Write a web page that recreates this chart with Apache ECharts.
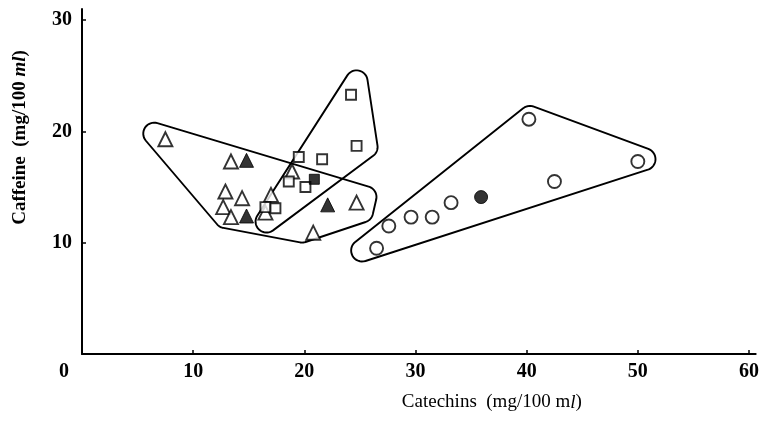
<!DOCTYPE html>
<html>
<head>
<meta charset="utf-8">
<script src="https://cdn.jsdelivr.net/npm/echarts@6/dist/echarts.min.js"></script>
<style>
  html, body { margin: 0; padding: 0; background: #fff; }
  #chart { width: 762px; height: 422px; }
</style>
</head>
<body>
<div id="chart"></div>
<script>
// axis ticks
const xTicks = [0, 10, 20, 30, 40, 50, 60]
const yTicks = [0, 10, 20, 30]

// [catechins, caffeine] in mg/100ml
const openTriangles = [
  [7.5, 19.3], [13.4, 17.3], [12.9, 14.6], [12.7, 13.2], [14.4, 14.0], [13.4, 12.3],
  [17.0, 14.3], [18.9, 16.4], [16.5, 12.7], [20.8, 10.9], [24.7, 13.6],
]
const filledTriangles = [[14.8, 17.4], [14.8, 12.4], [22.1, 13.4]]
const openSquares = [
  [24.2, 23.3], [24.7, 18.7], [19.5, 17.7], [21.6, 17.5],
  [18.6, 15.5], [20.1, 15.0], [16.5, 13.2], [17.4, 13.1],
]
const filledSquares = [[20.9, 15.7]]
const openCircles = [
  [40.2, 21.1], [50.0, 17.3], [42.5, 15.5], [33.2, 13.6],
  [31.5, 12.3], [29.6, 12.3], [27.6, 11.5], [26.5, 9.5],
]
const filledCircles = [[35.9, 14.1]]

// group outlines: centres of the rounded corners (data units)
const triangleGroup = [[6.5, 19.8], [12.9, 12.3], [19.8, 11.0], [25.2, 12.8], [25.5, 14.1]]
const squareGroup = [[24.7, 24.5], [25.6, 18.6], [16.6, 11.9]]
const circleGroup = [[40.3, 21.3], [50.6, 17.5], [25.2, 9.3]]
const groupOutlines = [triangleGroup, squareGroup, circleGroup]

const serif = "'Liberation Serif', 'DejaVu Serif', serif"

// rounded hull round convex corner points (pixels), corner radius r
function roundedHull(pts, r) {
  const n = pts.length
  const cx = pts.reduce((s, p) => s + p[0], 0) / n
  const cy = pts.reduce((s, p) => s + p[1], 0) / n
  const normals = []
  for (let i = 0; i < n; i++) {
    const p = pts[i]
    const q = pts[(i + 1) % n]
    const dx = q[0] - p[0]
    const dy = q[1] - p[1]
    const len = Math.hypot(dx, dy)
    let nx = dy / len
    let ny = -dx / len
    if (nx * ((p[0] + q[0]) / 2 - cx) + ny * ((p[1] + q[1]) / 2 - cy) < 0) {
      nx = -nx
      ny = -ny
    }
    normals.push(Math.atan2(ny, nx))
  }
  const out = []
  for (let i = 0; i < n; i++) {
    const p = pts[i]
    const a0 = normals[(i + n - 1) % n]
    let delta = normals[i] - a0
    while (delta > Math.PI) delta -= 2 * Math.PI
    while (delta < -Math.PI) delta += 2 * Math.PI
    const steps = 16
    for (let k = 0; k <= steps; k++) {
      const a = a0 + delta * k / steps
      out.push([p[0] + r * Math.cos(a), p[1] + r * Math.sin(a)])
    }
  }
  return out
}

const openStyle = { color: '#fff', borderColor: '#000', borderWidth: 1.9 }
const filledStyle = { color: '#000', borderColor: '#000', borderWidth: 1 }

const chart = echarts.init(document.getElementById('chart'))
const option = {
  animation: false,
  backgroundColor: '#fff',
  grid: { left: 82, right: 2, top: 9, bottom: 68 },
  xAxis: {
    type: 'value',
    min: 0,
    max: 60.6,
    name: '{n|Catechins  (mg/100 m}{i|l}{n|)}',
    nameLocation: 'middle',
    nameGap: 39,
    nameTextStyle: {
      padding: [0, 0, 0, 146],
      rich: {
        n: { fontFamily: serif, fontSize: 19, color: '#000' },
        i: { fontFamily: serif, fontSize: 19, fontStyle: 'italic', color: '#000' },
      },
    },
    axisLine: { lineStyle: { color: '#000', width: 2 } },
    axisTick: { inside: true, length: 4, customValues: xTicks, lineStyle: { color: '#000', width: 1.5 } },
    axisLabel: {
      customValues: xTicks,
      color: '#000',
      fontFamily: serif,
      fontWeight: 'bold',
      fontSize: 20,
      margin: 8,
      formatter: v => (v === 0 ? '{z|0}' : String(v)),
      rich: {
        z: { fontFamily: serif, fontWeight: 'bold', fontSize: 20, color: '#000', padding: [0, 36, 0, 0] },
      },
    },
    splitLine: { show: false },
  },
  yAxis: {
    type: 'value',
    min: 0,
    max: 31,
    name: '{n|Caffeine  (mg/100 }{i|ml}{n|)}',
    nameLocation: 'middle',
    nameGap: 52,
    nameTextStyle: {
      padding: [0, 0, 0, 88],
      rich: {
        n: { fontFamily: serif, fontSize: 19, fontWeight: 'bold', color: '#000' },
        i: { fontFamily: serif, fontSize: 19, fontWeight: 'bold', fontStyle: 'italic', color: '#000' },
      },
    },
    axisLine: { show: true, lineStyle: { color: '#000', width: 2 } },
    axisTick: { show: true, inside: true, length: 4, customValues: yTicks, lineStyle: { color: '#000', width: 1.5 } },
    axisLabel: {
      customValues: yTicks,
      color: '#000',
      fontFamily: serif,
      fontWeight: 'bold',
      fontSize: 20,
      margin: 10,
      formatter: v => (v === 0 ? '' : String(v)),
    },
    splitLine: { show: false },
  },
  series: [
    {
      type: 'custom',
      name: 'groups',
      clip: false,
      silent: true,
      data: groupOutlines.map(g => g[0]),
      renderItem: (params, api) => {
        const corners = groupOutlines[params.dataIndex].map(p => api.coord(p))
        return {
          type: 'polygon',
          shape: { points: roundedHull(corners, 11) },
          style: { fill: 'none', stroke: '#000', lineWidth: 1.9 },
        }
      },
      z: 1,
    },
    { type: 'scatter', data: openTriangles, symbol: 'triangle', symbolSize: 14, itemStyle: openStyle, z: 3 },
    { type: 'scatter', data: filledTriangles, symbol: 'triangle', symbolSize: 14, itemStyle: filledStyle, z: 3 },
    { type: 'scatter', data: openSquares, symbol: 'rect', symbolSize: 10, itemStyle: openStyle, z: 3 },
    { type: 'scatter', data: filledSquares, symbol: 'rect', symbolSize: 10, itemStyle: filledStyle, z: 3 },
    { type: 'scatter', data: openCircles, symbol: 'circle', symbolSize: 13, itemStyle: openStyle, z: 3 },
    { type: 'scatter', data: filledCircles, symbol: 'circle', symbolSize: 13, itemStyle: filledStyle, z: 3 },
  ],
}
chart.setOption(option)
window.addEventListener('resize', () => chart.resize())
</script>
</body>
</html>
